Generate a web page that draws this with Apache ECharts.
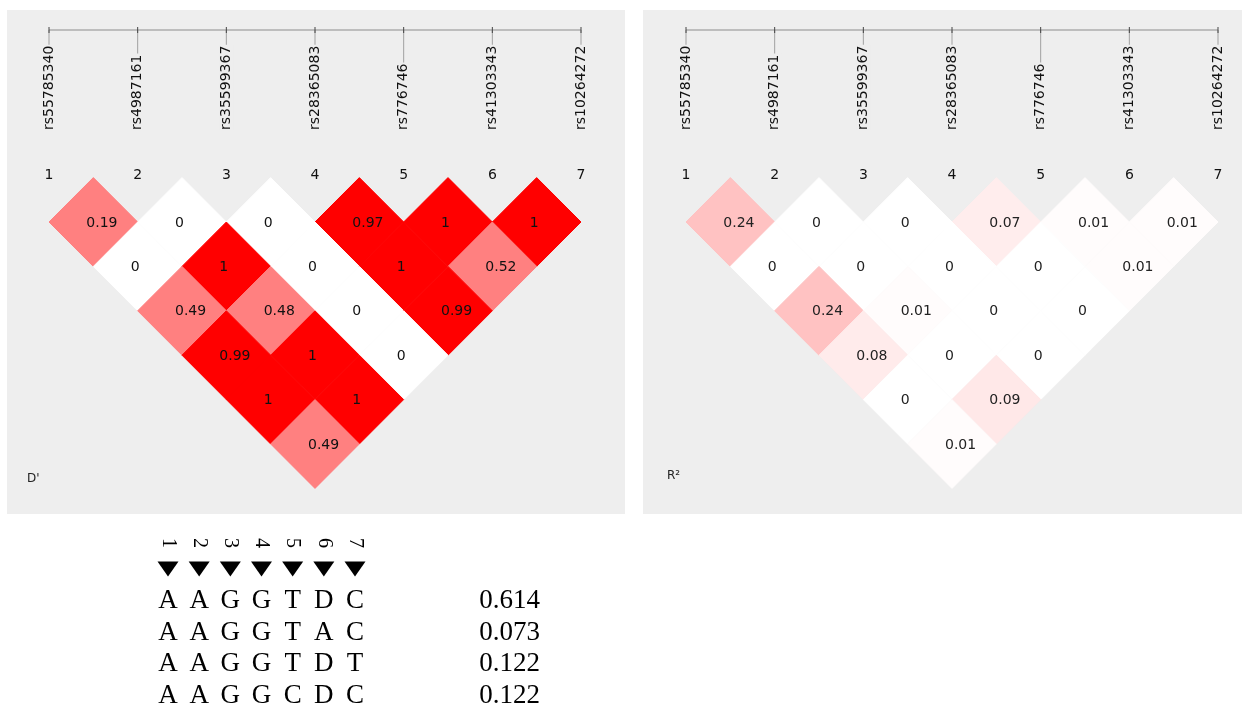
<!DOCTYPE html>
<html>
<head>
<meta charset="utf-8">
<script src="https://cdn.jsdelivr.net/npm/echarts@6/dist/echarts.min.js"></script>
<style>
  html, body { margin: 0; padding: 0; background: #ffffff; }
  #chart { width: 1248px; height: 706px; }
</style>
</head>
<body>
<div id="chart"></div>
<script>
// SNP markers, in map order
const markers = ['rs55785340', 'rs4987161', 'rs35599367', 'rs28365083', 'rs776746', 'rs41303343', 'rs10264272'];
const markerNumbers = ['1', '2', '3', '4', '5', '6', '7'];

// Pairwise LD, one row per marker distance (first row = adjacent markers)
const dPrimeRows = [
  [0.19, 0, 0, 0.97, 1, 1],
  [0, 1, 0, 1, 0.52],
  [0.49, 0.48, 0, 0.99],
  [0.99, 1, 0],
  [1, 1],
  [0.49]
];
const rSquaredRows = [
  [0.24, 0, 0, 0.07, 0.01, 0.01],
  [0, 0, 0, 0, 0.01],
  [0.24, 0.01, 0, 0],
  [0.08, 0, 0],
  [0, 0.09],
  [0.01]
];
const panelTitles = ["D'", 'R²'];

// Haplotypes over the seven markers and their frequencies
const haplotypes = ['AAGGTDC', 'AAGGTAC', 'AAGGTDT', 'AAGGCDC'];
const haplotypeFreqs = [0.614, 0.073, 0.122, 0.122];

// ---- layout constants ----
const PANEL_BG = '#eeeeee';
const LINE_Y = 30;          // physical-map line at the top of each panel
const LABEL_BASE_Y = 130;   // lower end of the rotated SNP names
const CELL_FONT = '14px "DejaVu Sans", sans-serif';
const FREQ_RIGHT = 540;

function pairData(rows) {
  const out = [];
  rows.forEach((row, r) => {
    row.forEach((v, k) => out.push([k + 1, k + 2 + r, v]));
  });
  return out;
}

function renderPair(textColor) {
  return function (params, api) {
    const i = api.value(0), j = api.value(1), v = api.value(2);
    const cx = (i + j) / 2, d = j - i;
    const pts = [[cx - 0.5, d], [cx, d - 1], [cx + 0.5, d], [cx, d + 1]].map(p => api.coord(p));
    const c = api.coord([cx, d]);
    const color = api.visual('color');
    return {
      type: 'group',
      children: [
        { type: 'polygon', shape: { points: pts }, style: { fill: color, stroke: color, lineWidth: 1 } },
        { type: 'text', x: c[0] - 7, y: c[1] + 1, z2: 10,
          style: { text: String(v), align: 'left', verticalAlign: 'middle', font: CELL_FONT, fill: textColor } }
      ]
    };
  };
}

function renderMarker(params, api) {
  const k = api.value(0);
  const p = api.coord([k, 0]);
  const children = [];
  if (params.dataIndex === 0) {
    const first = api.coord([1, 0]);
    const last = api.coord([markers.length, 0]);
    children.push({ type: 'line', shape: { x1: first[0], y1: LINE_Y, x2: last[0], y2: LINE_Y },
      style: { stroke: '#bdbdbd', lineWidth: 2 } });
  }
  children.push({ type: 'line', shape: { x1: p[0], y1: LINE_Y, x2: p[0], y2: LABEL_BASE_Y - 8 },
    style: { stroke: '#a0a0a0', lineWidth: 1 } });
  children.push({ type: 'line', shape: { x1: p[0], y1: LINE_Y - 3, x2: p[0], y2: LINE_Y + 3 },
    style: { stroke: '#444444', lineWidth: 1 } });
  children.push({ type: 'text', x: p[0], y: LABEL_BASE_Y, rotation: Math.PI / 2,
    style: { text: markers[k - 1], align: 'left', verticalAlign: 'middle',
      font: '14px "DejaVu Sans", sans-serif', fill: '#111111',
      backgroundColor: PANEL_BG, padding: [0, 1, 0, 0] } });
  children.push({ type: 'text', x: p[0], y: p[1] - 2,
    style: { text: markerNumbers[k - 1], align: 'center', verticalAlign: 'middle',
      font: '14px "DejaVu Sans", sans-serif', fill: '#111111' } });
  return { type: 'group', children: children };
}

function renderLetter(params, api) {
  const c = api.value(0), r = api.value(1);
  const p = api.coord([c, r]);
  return { type: 'text', x: p[0], y: p[1] + 1,
    style: { text: haplotypes[r][c - 1], align: 'center', verticalAlign: 'middle',
      font: '27px "Liberation Serif", "Times New Roman", serif', fill: '#000000' } };
}

function renderHeader(params, api) {
  const k = api.value(0);
  const p = api.coord([k, 0]);
  const ty = p[1] - 31;
  return {
    type: 'group',
    children: [
      { type: 'text', x: p[0], y: p[1] - 57, rotation: -Math.PI / 2,
        style: { text: markerNumbers[k - 1], align: 'center', verticalAlign: 'middle',
          font: '20px "Liberation Serif", "Times New Roman", serif', fill: '#000000' } },
      { type: 'polygon', shape: { points: [[p[0] - 10.5, ty - 7.5], [p[0] + 10.5, ty - 7.5], [p[0], ty + 7.5]] },
        style: { fill: '#000000' } }
    ]
  };
}

function renderFreq(params, api) {
  const r = api.value(1), f = api.value(2);
  const p = api.coord([1, r]);
  return { type: 'text', x: FREQ_RIGHT, y: p[1] + 1,
    style: { text: f.toFixed(3), align: 'right', verticalAlign: 'middle',
      font: '27px "Liberation Serif", "Times New Roman", serif', fill: '#000000' } };
}

const letterData = [];
haplotypes.forEach((h, r) => { for (let c = 0; c < h.length; c++) letterData.push([c + 1, r]); });
const freqData = haplotypeFreqs.map((f, r) => [1, r, f]);
const markerData = markers.map((m, k) => [k + 1, 0]);

const ldAxisX = (gi) => ({ type: 'value', gridIndex: gi, min: 1, max: markers.length, show: false });
const ldAxisY = (gi) => ({ type: 'value', gridIndex: gi, min: 0, max: 6, inverse: true, show: false });

const chart = echarts.init(document.getElementById('chart'), null, { renderer: 'canvas' });
chart.setOption({
  animation: false,
  backgroundColor: '#ffffff',
  graphic: [
    { type: 'rect', left: 7, top: 10, shape: { width: 618, height: 504 }, style: { fill: PANEL_BG }, z: -10 },
    { type: 'rect', left: 643, top: 10, shape: { width: 599, height: 504 }, style: { fill: PANEL_BG }, z: -10 },
    { type: 'text', left: 27, top: 473, style: { text: panelTitles[0], font: '12px "DejaVu Sans", sans-serif', fill: '#222' } },
    { type: 'text', left: 667, top: 470, style: { text: panelTitles[1], font: '12px "DejaVu Sans", sans-serif', fill: '#222' } }
  ],
  grid: [
    { left: 49, width: 532, top: 177.6, height: 266.4 },
    { left: 686, width: 532, top: 177.6, height: 266.4 },
    { left: 168, width: 187, top: 600, height: 95 }
  ],
  xAxis: [ldAxisX(0), ldAxisX(1), { type: 'value', gridIndex: 2, min: 1, max: 7, show: false }],
  yAxis: [ldAxisY(0), ldAxisY(1), { type: 'value', gridIndex: 2, min: 0, max: 3, inverse: true, show: false }],
  visualMap: [
    { type: 'piecewise', show: false, seriesIndex: 0, dimension: 2,
      pieces: [
        { lt: 0.1, color: '#ffffff' },
        { gte: 0.1, lt: 0.9, color: '#ff8080' },
        { gte: 0.9, color: '#ff0000' }
      ] },
    { type: 'continuous', show: false, seriesIndex: 2, dimension: 2, min: 0, max: 1,
      inRange: { color: ['#ffffff', '#ff0000'] } }
  ],
  series: [
    { type: 'custom', name: "D'", xAxisIndex: 0, yAxisIndex: 0, clip: false,
      data: pairData(dPrimeRows), renderItem: renderPair('#111111') },
    { type: 'custom', xAxisIndex: 0, yAxisIndex: 0, clip: false, z: 3,
      data: markerData, renderItem: renderMarker },
    { type: 'custom', name: 'R²', xAxisIndex: 1, yAxisIndex: 1, clip: false,
      data: pairData(rSquaredRows), renderItem: renderPair('#222222') },
    { type: 'custom', xAxisIndex: 1, yAxisIndex: 1, clip: false, z: 3,
      data: markerData, renderItem: renderMarker },
    { type: 'custom', xAxisIndex: 2, yAxisIndex: 2, clip: false,
      data: letterData, renderItem: renderLetter },
    { type: 'custom', xAxisIndex: 2, yAxisIndex: 2, clip: false,
      data: markerData, renderItem: renderHeader },
    { type: 'custom', xAxisIndex: 2, yAxisIndex: 2, clip: false,
      data: freqData, renderItem: renderFreq }
  ]
});
</script>
</body>
</html>
